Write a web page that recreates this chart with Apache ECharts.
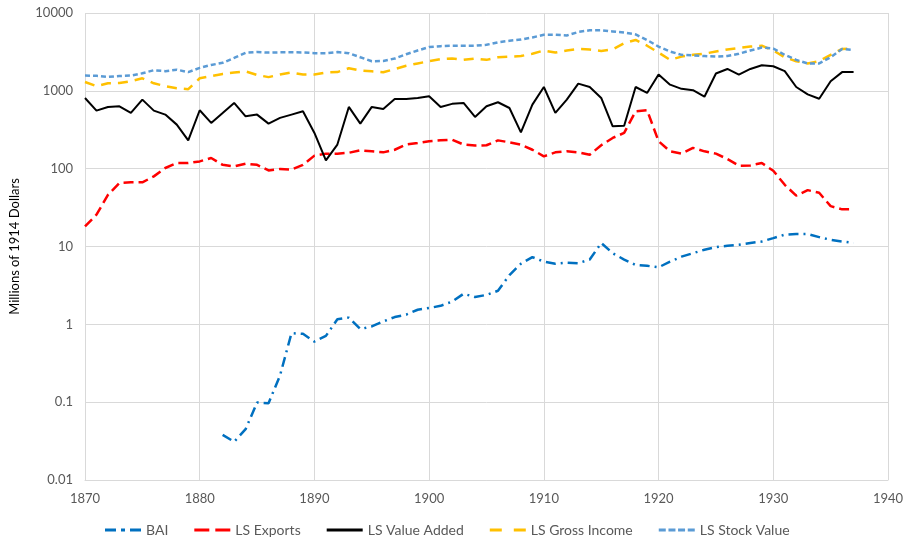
<!DOCTYPE html>
<html>
<head>
<meta charset="utf-8">
<script src="https://cdn.jsdelivr.net/npm/echarts@6/dist/echarts.min.js"></script>
<style>
html,body{margin:0;padding:0;background:#fff;}
#chart{width:910px;height:542px;}
</style>
</head>
<body>
<div id="chart"></div>
<script>
// ---- Data ----
const years = [];
for (let y = 1870; y <= 1937; y++) years.push(y);
const baiYears = [];
for (let y = 1882; y <= 1937; y++) baiYears.push(y);

const bai = [0.038,0.031,0.045,0.099,0.097,0.22,0.77,0.755,0.60,0.71,
  1.16,1.22,0.87,0.94,1.09,1.24,1.33,1.54,1.62,1.73,
  1.96,2.47,2.24,2.39,2.7,4.3,6.0,7.3,6.4,6.0,
  6.2,6.1,6.8,11.1,8.2,6.8,5.8,5.65,5.4,6.4,
  7.4,8.2,9.1,9.8,10.2,10.5,11.1,11.6,12.8,14.2,
  14.5,14.5,13.2,12.2,11.6,11.1];

const lsExports = [18.1,25.6,46,65.5,66.7,66.7,79.6,102,118,118,
  124,137,112,107,116,112,95,99,97,112,
  147,156,156,160,172,167,162,175,204,214,
  225,231,236,204,198,200,231,218,204,175,
  144,162,167,162,151,200,248,288,546,563,
  225,167,156,185,167,156,133,109,110,118,
  94,62,45,53,49,33,30,30];

const lsValueAdded = [810,557,621,633,520,771,557,495,368,231,
  563,387,520,700,471,495,379,449,495,546,
  288,128,204,621,379,621,585,785,785,811,
  851,620,680,700,462,633,713,602,293,665,
  1120,520,771,1238,1122,810,350,355,1120,940,
  1620,1200,1060,1020,840,1670,1910,1620,1910,2130,
  2070,1790,1120,900,790,1330,1740,1740];

const lsGrossIncome = [1300,1150,1250,1260,1330,1450,1250,1150,1080,1050,
  1450,1550,1650,1720,1780,1600,1500,1620,1720,1620,
  1620,1720,1740,1950,1820,1780,1730,1900,2100,2250,
  2400,2550,2600,2500,2600,2500,2700,2750,2800,3000,
  3300,3100,3300,3450,3400,3250,3400,4100,4500,3800,
  3100,2500,2750,2900,3000,3200,3400,3550,3700,3800,
  3300,2700,2400,2250,2400,2900,3450,3500];

const lsStockValue = [1570,1560,1510,1550,1570,1680,1840,1790,1870,1740,
  1970,2150,2290,2650,3080,3150,3100,3120,3130,3110,
  3050,3050,3150,3050,2700,2400,2420,2600,2950,3300,
  3650,3750,3800,3800,3800,3900,4200,4400,4550,4850,
  5250,5250,5150,5700,6000,6000,5800,5600,5300,4500,
  3700,3200,2900,2850,2800,2750,2800,3000,3300,3600,
  3500,2900,2500,2250,2250,2700,3450,3350];

const yTicks = [0.01,0.1,1,10,100,1000,10000];
const xTicks = [1870,1880,1890,1900,1910,1920,1930,1940];

const pair = (xs, vs) => xs.map((x, i) => [x, vs[i]]);

const font = 'Lato, "Open Sans", sans-serif';
const txt = '#595959';

function mk(name, xs, vs, color, type, width) {
  return {
    name, type: 'line', data: pair(xs, vs),
    showSymbol: false, symbol: 'none',
    lineStyle: { color, type, width, cap: 'butt' },
    itemStyle: { color },
    emphasis: { disabled: true },
    z: 3
  };
}

// legend icons drawn as dash patterns
const icons = {
  'BAI': 'path://M0 0h11v3H0z M16 0h4v3h-4z M25 0h11v3h-11z',
  'LS Exports': 'path://M0 0h15v3H0z M21 0h15v3h-15z',
  'LS Value Added': 'path://M0 0h36v3H0z',
  'LS Gross Income': 'path://M0 0h12v3H0z M24 0h12v3h-12z',
  'LS Stock Value': 'path://M0 0h7v3H0z M9.7 0h7v3h-7z M19.3 0h7v3h-7z M29 0h7v3h-7z'
};

const chart = echarts.init(document.getElementById('chart'), null, { renderer: 'canvas' });
chart.setOption({
  animation: false,
  backgroundColor: '#fff',
  textStyle: { fontFamily: font },
  grid: { left: 84, right: 22, top: 13, bottom: 62, containLabel: false },
  xAxis: {
    type: 'value', min: 1870, max: 1940, interval: 10,
    axisLine: { show: true, lineStyle: { color: '#d9d9d9', width: 1 } },
    axisTick: { show: false },
    axisLabel: { color: txt, fontSize: 13, margin: 12, fontFamily: font,
      formatter: v => String(v) },
    splitLine: { show: true, lineStyle: { color: '#d9d9d9', width: 1 } }
  },
  yAxis: {
    type: 'log', logBase: 10, min: 0.01, max: 10000,
    name: 'Millions of 1914 Dollars', nameLocation: 'middle', nameGap: 64,
    nameTextStyle: { color: '#000', fontSize: 13, fontFamily: font },
    axisLine: { show: false },
    axisTick: { show: false },
    axisLabel: {
      color: txt, fontSize: 13, margin: 12, fontFamily: font,
      formatter: v => {
        const t = yTicks.find(k => Math.abs(Math.log10(k) - Math.log10(v)) < 1e-6);
        return t === undefined ? '' : String(t);
      }
    },
    splitLine: { show: true, lineStyle: { color: '#d9d9d9', width: 1 } }
  },
  legend: {
    bottom: 0, left: 100,
    itemWidth: 36, itemHeight: 3, itemGap: 26,
    textStyle: { color: txt, fontSize: 14, fontFamily: font },
    data: Object.keys(icons).map(n => ({ name: n, icon: icons[n] }))
  },
  series: [
    mk('BAI', baiYears, bai, '#0070C0', [10, 5, 2, 5], 2.5),
    mk('LS Exports', years, lsExports, '#FF0000', [10, 5], 2.5),
    mk('LS Value Added', years, lsValueAdded, '#000000', 'solid', 2),
    mk('LS Gross Income', years, lsGrossIncome, '#FFC000', [10, 7], 2.5),
    mk('LS Stock Value', years, lsStockValue, '#5B9BD5', [5, 3], 2.5)
  ]
});
</script>
</body>
</html>
